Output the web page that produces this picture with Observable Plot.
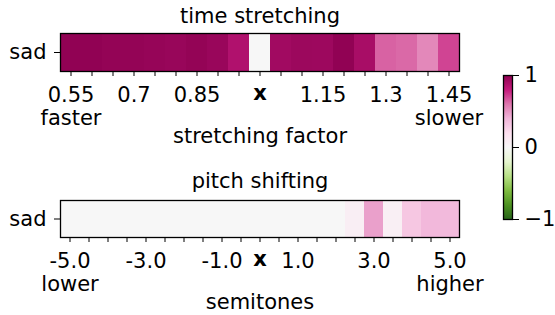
<!DOCTYPE html>
<html>
<head>
<meta charset="utf-8">
<script src="https://cdn.jsdelivr.net/npm/d3@7"></script>
<script src="https://cdn.jsdelivr.net/npm/@observablehq/plot@0.6"></script>
<style>
  body { margin: 0; background: #fff; }
  #wrap { position: relative; width: 555px; height: 315px; font-family: "DejaVu Sans", sans-serif; }
  #wrap > svg, #wrap > figure { position: absolute; margin: 0; }
</style>
</head>
<body>
<div id="wrap"></div>
<script>
// ---------- data ----------
const rowLabel = ["sad"];

const stretchFactors = [0.55, 0.6, 0.65, 0.7, 0.75, 0.8, 0.85, 0.9, 0.95, 1.0,
                        1.05, 1.1, 1.15, 1.2, 1.25, 1.3, 1.35, 1.4, 1.45];
const stretchValues  = [0.99, 0.99, 0.98, 0.98, 0.97, 0.965, 0.98, 0.96, 0.875, 0,
                        0.93, 0.95, 0.945, 0.99, 0.905, 0.645, 0.63, 0.545, 0.71];
const stretchTickLabels = {0.55: "0.55\nfaster", 0.7: "0.7", 0.85: "0.85", 1.15: "1.15", 1.3: "1.3", 1.45: "1.45\nslower"};

const pitchSemitones = [-5, -4.5, -4, -3.5, -3, -2.5, -2, -1.5, -1, -0.5, 0,
                        0.5, 1, 1.5, 2, 2.5, 3, 3.5, 4, 4.5, 5];
const pitchValues    = [0, 0, 0, 0, 0, 0, 0, 0, 0, 0, 0,
                        0, 0, 0, 0, 0.08, 0.47, 0.07, 0.32, 0.39, 0.38];
const pitchTickLabels = {"-5": "-5.0\nlower", "-3": "-3.0", "-1": "-1.0", "1": "1.0", "3": "3.0", "5": "5.0\nhigher"};

const identityValue = ["x"];            // label for the unmodified (reference) column
const identityStretch = [1.0];
const identityPitch = [0];

const titles = ["time stretching", "pitch shifting"];
const axisLabels = ["stretching factor", "semitones"];

const colorTicks = [-1, 0, 1];
const colorDomain = [-1, 1];
const piygR = ["#276419","#4d9221","#7fbc41","#b8e186","#e6f5d0","#f7f7f7",
               "#fde0ef","#f1b6da","#de77ae","#c51b7d","#8e0152"];

// ---------- helpers ----------
const FS = 21;
const colorScale = {
  type: "linear",
  domain: piygR.map((_, i) => -1 + i * 2 / (piygR.length - 1)),
  range: piygR,
  interpolate: "rgb",
  clamp: true
};

function heatmap({cats, vals, tickLabels, identity, title, label, height, mt, mb, titleDy}) {
  const data = cats.map((c, i) => ({c, v: vals[i], row: rowLabel[0]}));
  return Plot.plot({
    width: 555, height,
    marginLeft: 60, marginRight: 96, marginTop: mt, marginBottom: mb,
    style: {fontFamily: "DejaVu Sans, sans-serif", fontSize: FS + "px", color: "black", background: "white"},
    x: {type: "band", domain: cats, padding: 0},
    y: {type: "band", domain: rowLabel, padding: 0},
    color: colorScale,
    marks: [
      Plot.cell(data, {x: "c", y: "row", fill: "v"}),
      Plot.frame({stroke: "black", strokeWidth: 1.3}),
      Plot.axisX({ticks: cats, tickSize: 5, tickPadding: 9, fontSize: FS, lineHeight: 1.1,
                  tickFormat: d => tickLabels[String(d)] ?? "", label: null}),
      Plot.text(identity, {x: d => d, text: () => identityValue[0], frameAnchor: "bottom",
                           dy: 14, lineAnchor: "top", fontWeight: "bold", fontSize: FS}),
      Plot.axisY({tickSize: 6, tickPadding: 8, fontSize: FS, label: null}),
      Plot.text([title], {text: d => d, frameAnchor: "top", dy: titleDy, lineAnchor: "bottom", fontSize: FS}),
      Plot.text([label], {text: d => d, frameAnchor: "bottom", dy: 71, lineAnchor: "bottom", fontSize: FS})
    ]
  });
}

const wrap = document.getElementById("wrap");

const p1 = heatmap({cats: stretchFactors, vals: stretchValues, tickLabels: stretchTickLabels,
  identity: identityStretch, title: titles[0], label: axisLabels[0],
  height: 150, mt: 33, mb: 79, titleDy: -11});
p1.style.left = "0px"; p1.style.top = "0px";
wrap.appendChild(p1);

const p2 = heatmap({cats: pitchSemitones, vals: pitchValues, tickLabels: pitchTickLabels,
  identity: identityPitch, title: titles[1], label: axisLabels[1],
  height: 155, mt: 40, mb: 78, titleDy: -13});
p2.style.left = "0px"; p2.style.top = "160px";
wrap.appendChild(p2);

const cb = Plot.plot({
  width: 75, height: 315,
  marginLeft: 23, marginRight: 43, marginTop: 75, marginBottom: 96,
  style: {fontFamily: "DejaVu Sans, sans-serif", fontSize: FS + "px", color: "black", background: "transparent"},
  x: {domain: [0, 1], axis: null},
  y: {domain: colorDomain},
  color: colorScale,
  marks: [
    Plot.raster({fill: (x, y) => y, x1: 0, x2: 1, y1: colorDomain[0], y2: colorDomain[1], pixelSize: 1}),
    Plot.frame({stroke: "black", strokeWidth: 1.3}),
    Plot.axisY({anchor: "right", ticks: colorTicks, tickSize: 6, tickPadding: 6, fontSize: FS, label: null,
                tickFormat: d => d < 0 ? "\u2212" + Math.abs(d) : String(d)})
  ]
});
cb.style.left = "480px"; cb.style.top = "0px";
wrap.appendChild(cb);
</script>
</body>
</html>
